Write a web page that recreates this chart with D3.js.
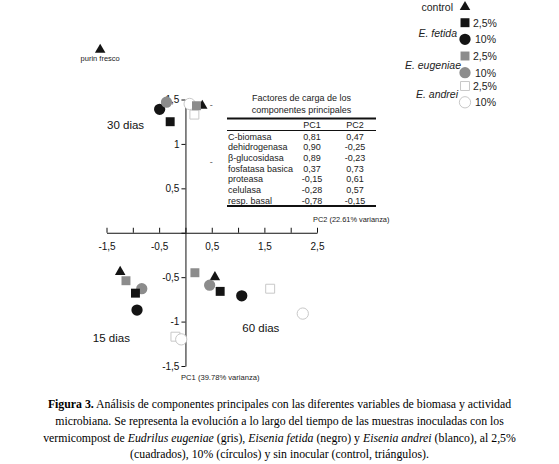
<!DOCTYPE html>
<html>
<head>
<meta charset="utf-8">
<script src="https://cdn.jsdelivr.net/npm/d3@7"></script>
<style>
  body { margin: 0; background: #fff; }
  svg { display: block; font-family: "Liberation Sans", Arial, sans-serif; }
  .caption { font-family: "Liberation Serif", "Times New Roman", serif; font-size: 11.8px; }
</style>
</head>
<body>
<div id="chart"></div>
<script>
// treatments, in the order the legend lists them
const treatments = ['control', 'fetida25', 'fetida10', 'eugeniae25', 'eugeniae10', 'andrei25', 'andrei10'];
const shapes = ['triangle', 'square', 'circle', 'square', 'circle', 'square', 'circle'];
const fills = ['black', 'black', 'black', 'gray', 'gray', 'white', 'white'];

// scores (horizontal, vertical) per sampling day, same order as treatments
const dia30X = [0.32, -0.29, -0.49, 0.21, -0.36, 0.17, 0.08];
const dia30Y = [1.43, 1.25, 1.39, 1.43, 1.47, 1.33, 1.45];
const dia15X = [-1.24, -0.95, -0.92, -1.13, -0.83, -0.19, -0.08];
const dia15Y = [-0.44, -0.68, -0.87, -0.54, -0.63, -1.17, -1.20];
const dia60X = [0.56, 0.66, 1.07, 0.18, 0.46, 1.61, 2.23];
const dia60Y = [-0.50, -0.66, -0.71, -0.45, -0.59, -0.63, -0.91];

// fresh slurry reference point
const purinX = -1.62;
const purinY = 2.06;

// tick labels
const xTicks = [-1.5, -1, -0.5, 0, 0.5, 1, 1.5, 2, 2.5];
const xTickLabels = ['-1,5', '', '-0,5', '', '0,5', '', '1,5', '', '2,5'];
const yTicks = [-1.5, -1, -0.5, 0, 0.5, 1, 1.5];
const yTickLabels = ['-1,5', '-1', '-0,5', '', '0,5', '1', '1,5'];

// loading factors table
const tableVars = ['C-biomasa', 'dehidrogenasa', 'β-glucosidasa', 'fosfatasa basica', 'proteasa', 'celulasa', 'resp. basal'];
const tablePC1 = ['0,81', '0,90', '0,89', '0,37', '-0,15', '-0,28', '-0,78'];
const tablePC2 = ['0,47', '-0,25', '-0,23', '0,73', '0,61', '0,57', '-0,15'];

const W = 559, H = 464;
const colour = { black: '#141414', gray: '#8c8c8c', white: '#ffffff' };

const svg = d3.select('#chart').append('svg')
  .attr('width', W)
  .attr('height', H);

const x = d3.scaleLinear().domain([-1.5, 2.5]).range([106.5, 317]);
const y = d3.scaleLinear().domain([-1.5, 1.5]).range([366, 99.5]);

// horizontal axis (ticks point up)
const xAxis = svg.append('g')
  .attr('transform', `translate(0,${y(0)})`)
  .call(d3.axisBottom(x).tickValues(xTicks).tickSizeInner(-5).tickSizeOuter(0).tickPadding(10)
    .tickFormat((d, i) => xTickLabels[i]));

// vertical axis
const yAxis = svg.append('g')
  .attr('transform', `translate(${x(0)},0)`)
  .call(d3.axisLeft(y).tickValues(yTicks).tickSize(4).tickSizeOuter(0).tickPadding(2)
    .tickFormat((d, i) => yTickLabels[i]));

[xAxis, yAxis].forEach(g => {
  g.selectAll('text').attr('font-size', 10).attr('fill', '#111').attr('font-family', null);
  g.selectAll('path, line').attr('stroke', '#111');
});

// stray dashes left in the original figure
svg.selectAll('.dash')
  .data([1.44, 0.80])
  .enter().append('text')
    .attr('x', x(0.49))
    .attr('y', d => y(d) + 3)
    .attr('text-anchor', 'middle')
    .attr('font-size', 9)
    .attr('fill', '#555')
    .text('-');

// axis titles
svg.append('text')
  .attr('x', 313).attr('y', 222)
  .attr('font-size', 7.4).attr('fill', '#222')
  .text('PC2 (22.61% varianza)');
svg.append('text')
  .attr('x', 181).attr('y', 380)
  .attr('font-size', 7.6).attr('fill', '#222')
  .text('PC1 (39.78% varianza)');

// group labels
const groups = [
  { label: '30 dias', gx: -1.49, gy: 1.17 },
  { label: '15 dias', gx: -1.76, gy: -1.23 },
  { label: '60 dias', gx: 1.08, gy: -1.12 }
];
svg.selectAll('.grp')
  .data(groups)
  .enter().append('text')
    .attr('x', d => x(d.gx))
    .attr('y', d => y(d.gy))
    .attr('font-size', 11.5)
    .attr('fill', '#111')
    .text(d => d.label);

// markers
const symbolFor = { triangle: d3.symbolTriangle, square: d3.symbolSquare, circle: d3.symbolCircle };
const sizeFor = { triangle: 48, square: 80, circle: 100 };
const sym = i => d3.symbol().type(symbolFor[shapes[i]]).size(sizeFor[shapes[i]])();

function styleMarker(sel, i) {
  sel.attr('d', sym(i))
    .attr('fill', colour[fills[i]])
    .attr('stroke', fills[i] === 'white' ? '#c8c8c8' : 'none')
    .attr('stroke-width', 1);
}

const drawOrder = [0, 2, 5, 6, 4, 1, 3];
const points = [];
[[dia30X, dia30Y], [dia15X, dia15Y], [dia60X, dia60Y]].forEach(([xs, ys]) => {
  drawOrder.forEach(i => points.push({ i, px: xs[i], py: ys[i] }));
});

svg.selectAll('.pt')
  .data(points)
  .enter().append('path')
    .attr('class', 'pt')
    .attr('transform', d => `translate(${x(d.px)},${y(d.py)})`)
    .each(function (d) { styleMarker(d3.select(this), d.i); });

// purin fresco
svg.append('path')
  .attr('transform', `translate(${x(purinX)},${y(purinY)})`)
  .call(s => styleMarker(s, 0));
svg.append('text')
  .attr('x', x(purinX)).attr('y', y(purinY) + 11)
  .attr('text-anchor', 'middle')
  .attr('font-size', 7.5).attr('fill', '#222')
  .text('purin fresco');

// loading factors table
const tb = svg.append('g');
const tL = 227, tR = 376, rowH = 10.7;
tb.append('text').attr('x', (tL + tR) / 2).attr('y', 101).attr('text-anchor', 'middle')
  .attr('font-size', 9).attr('fill', '#222').text('Factores de carga de los');
tb.append('text').attr('x', (tL + tR) / 2).attr('y', 113).attr('text-anchor', 'middle')
  .attr('font-size', 9).attr('fill', '#222').text('componentes principales');
tb.append('line').attr('x1', tL).attr('x2', tR).attr('y1', 118.5).attr('y2', 118.5)
  .attr('stroke', '#111').attr('stroke-width', 2);
tb.append('text').attr('x', 312).attr('y', 128).attr('text-anchor', 'middle')
  .attr('font-size', 9).attr('fill', '#222').text('PC1');
tb.append('text').attr('x', 355).attr('y', 128).attr('text-anchor', 'middle')
  .attr('font-size', 9).attr('fill', '#222').text('PC2');
tb.append('line').attr('x1', tL).attr('x2', tR).attr('y1', 130.5).attr('y2', 130.5)
  .attr('stroke', '#111').attr('stroke-width', 1);
tableVars.forEach((v, k) => {
  const ry = 139.5 + k * rowH;
  tb.append('text').attr('x', tL + 1).attr('y', ry).attr('font-size', 9).attr('fill', '#222').text(v);
  tb.append('text').attr('x', 312).attr('y', ry).attr('text-anchor', 'middle').attr('font-size', 9).attr('fill', '#222').text(tablePC1[k]);
  tb.append('text').attr('x', 355).attr('y', ry).attr('text-anchor', 'middle').attr('font-size', 9).attr('fill', '#222').text(tablePC2[k]);
});
tb.append('line').attr('x1', tL).attr('x2', tR).attr('y1', 206).attr('y2', 206)
  .attr('stroke', '#111').attr('stroke-width', 2);

// legend
const legendRows = [
  { i: 0, ly: 7, lab: '' },
  { i: 1, ly: 22.7, lab: '2,5%' },
  { i: 2, ly: 39.3, lab: '10%' },
  { i: 3, ly: 56, lab: '2,5%' },
  { i: 4, ly: 72.7, lab: '10%' },
  { i: 5, ly: 86, lab: '2,5%' },
  { i: 6, ly: 102.3, lab: '10%' }
];
const lg = svg.append('g');
legendRows.forEach(r => {
  lg.append('path')
    .attr('transform', `translate(465,${r.ly})`)
    .call(s => styleMarker(s, r.i));
  lg.append('text')
    .attr('x', shapes[r.i] === 'circle' ? 475 : 473).attr('y', r.ly + 4)
    .attr('font-size', 10.5).attr('fill', '#222')
    .text(r.lab);
});
const legendNames = [
  { t: 'control', ly: 7.3, it: false, rx: 453 },
  { t: 'E. fetida', ly: 33.3, it: true, rx: 457 },
  { t: 'E. eugeniae', ly: 65, it: true, rx: 461 },
  { t: 'E. andrei', ly: 94.3, it: true, rx: 458 }
];
lg.selectAll('.lname')
  .data(legendNames)
  .enter().append('text')
    .attr('x', d => d.rx).attr('y', d => d.ly + 4)
    .attr('text-anchor', 'end')
    .attr('font-size', 10.5).attr('fill', '#222')
    .attr('font-style', d => d.it ? 'italic' : null)
    .text(d => d.t);

// caption
const captionLines = [
  [['b', 'Figura 3.'], ['n', ' Análisis de componentes principales con las diferentes variables de biomasa y actividad']],
  [['n', 'microbiana. Se representa la evolución a lo largo del tiempo de las muestras inoculadas con los']],
  [['n', 'vermicompost de '], ['i', 'Eudrilus eugeniae'], ['n', ' (gris), '], ['i', 'Eisenia fetida'], ['n', ' (negro) y '], ['i', 'Eisenia andrei'], ['n', ' (blanco), al 2,5%']],
  [['n', '(cuadrados), 10% (círculos) y sin inocular (control, triángulos).']]
];
captionLines.forEach((parts, k) => {
  const t = svg.append('text')
    .attr('class', 'caption')
    .attr('x', W / 2)
    .attr('y', 408 + k * 16.8)
    .attr('text-anchor', 'middle')
    .attr('fill', '#000');
  parts.forEach(([st, s]) => {
    t.append('tspan')
      .attr('font-weight', st === 'b' ? 'bold' : null)
      .attr('font-style', st === 'i' ? 'italic' : null)
      .text(s);
  });
});
</script>
</body>
</html>
